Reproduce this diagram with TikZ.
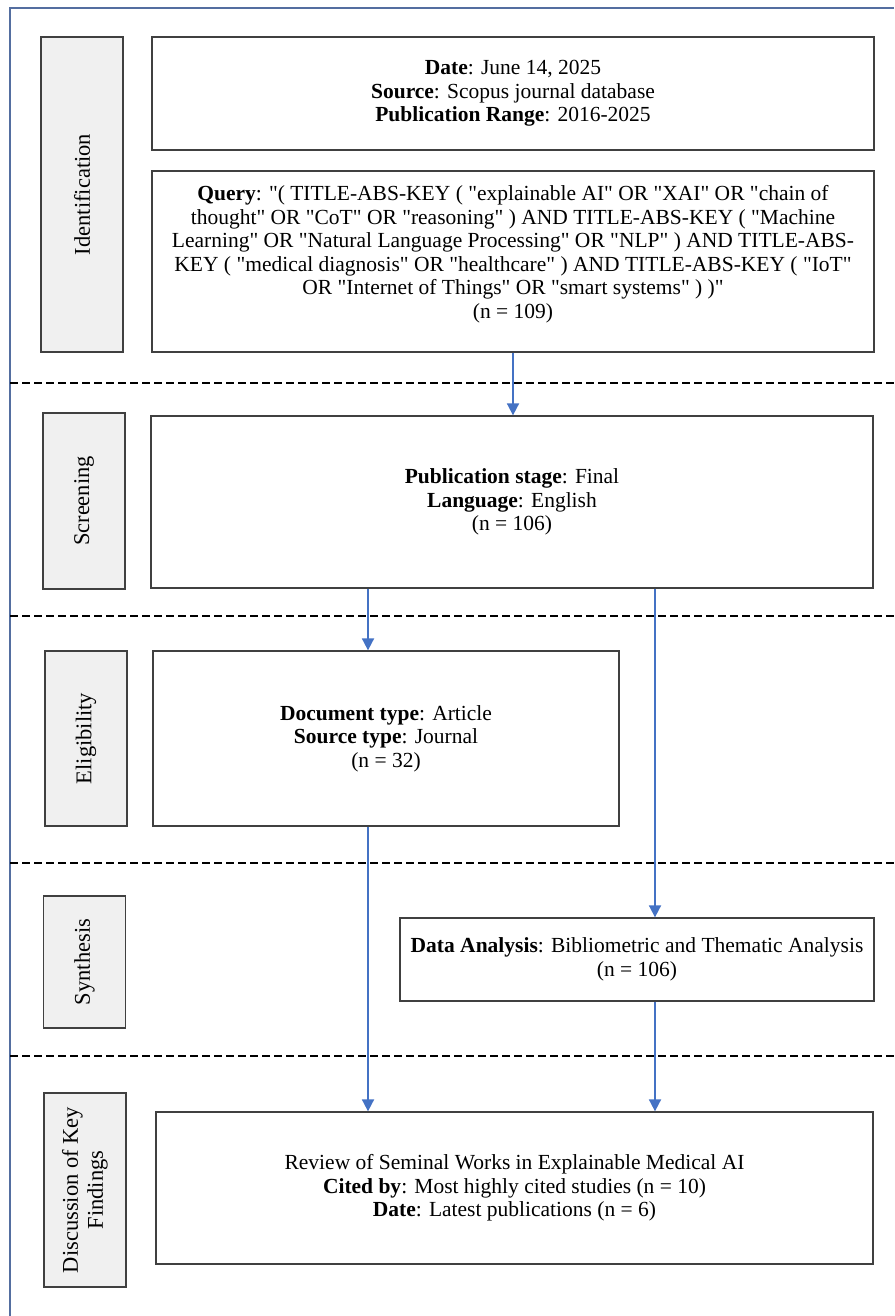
\documentclass[tikz,border=0pt]{standalone}
\usepackage{fontspec}
\setmainfont{Liberation Serif}[Ligatures=TeXOff]
\usetikzlibrary{arrows.meta,positioning}
\definecolor{framecol}{RGB}{84,110,160}
\definecolor{flowcol}{RGB}{68,114,196}
\definecolor{stagegray}{RGB}{240,240,240}
\tikzstyle{stagebox}=[draw=black!75,fill=stagegray,line width=1.3pt,rotate=90,minimum height=82pt,inner sep=0pt,align=center,font=\fontsize{22.5}{25}\selectfont]
\tikzstyle{infobox}=[draw=black!75,fill=white,line width=1.3pt,inner sep=0pt,align=center]
\tikzstyle{flow}=[draw=flowcol,line width=1.8pt,-{Triangle[length=12pt,width=12pt]}]
\tikzstyle{phaseline}=[draw,line width=2.2pt,dash pattern=on 8pt off 4pt]
\tikzstyle{frameline}=[draw=framecol,line width=2pt]

\begin{document}
\begin{tikzpicture}[x=1pt,y=-1pt,font=\fontsize{21.5}{23.5}\selectfont]

  \useasboundingbox (0,0) rectangle (894,1316);
  \draw[frameline] (894,8) -- (10,8) -- (10,1316);

  % phase separators
  \foreach \y in {383,616,863,1056}
     \draw[phaseline] (10,\y) -- (894,\y);

  % stage labels on the left
  \foreach \x/\y/\h/\name/\label in {82/194.5/315/sid/Identification, 84/501/176/sscr/Screening, 86/738.5/175/selg/Eligibility, 84.5/962/132/ssyn/Synthesis, 85/1190/194/sdis/{Discussion of Key\\Findings}}
     \node[stagebox,minimum width=\h pt] (\name) at (\x,\y) {\label};

  % content boxes
  \node[infobox,minimum width=722pt,minimum height=113pt] (date) at (513,93.5)
     {\textbf{Date}: June 14, 2025\\\textbf{Source}: Scopus journal database\\\textbf{Publication Range}: 2016-2025};
  \node[infobox,minimum width=722pt,minimum height=181pt] (query) at (513,261.5)
     {\textbf{Query}: "( TITLE-ABS-KEY ( "explainable AI" OR "XAI" OR "chain of\\
      thought" OR "CoT" OR "reasoning" ) AND TITLE-ABS-KEY ( "Machine\\
      Learning" OR "Natural Language Processing" OR "NLP" ) AND TITLE-ABS-\\
      KEY ( "medical diagnosis" OR "healthcare" ) AND TITLE-ABS-KEY ( "IoT"\\
      OR "Internet of Things" OR "smart systems" ) )"\\
      (n = 109)\\[-4pt]};
  \node[infobox,minimum width=722pt,minimum height=172pt] (scr) at (512,502)
     {\textbf{Publication stage}: Final\\\textbf{Language}: English\\(n = 106)};
  \node[infobox,minimum width=466pt,minimum height=175pt] (elig) at (386,738.5)
     {\textbf{Document type}: Article\\\textbf{Source type}: Journal\\(n = 32)};
  \node[infobox,minimum width=474pt,minimum height=83pt] (syn) at (637,959.5)
     {\textbf{Data Analysis}: Bibliometric and Thematic Analysis\\(n = 106)};
  \node[infobox,minimum width=717pt,minimum height=152pt] (disc) at (514.5,1188)
     {Review of Seminal Works in Explainable Medical AI\\\textbf{Cited by}: Most highly cited studies (n = 10)\\\textbf{Date}: Latest publications (n = 6)};

  % flow arrows
  \coordinate (colA) at (368,0);
  \coordinate (colB) at (655,0);
  \draw[flow] (query.south) -- (query.south |- scr.north);
  \draw[flow] (scr.south -| colA) -- (elig.north -| colA);
  \draw[flow] (scr.south -| colB) -- (syn.north -| colB);
  \draw[flow] (elig.south -| colA) -- (disc.north -| colA);
  \draw[flow] (syn.south -| colB) -- (disc.north -| colB);

\end{tikzpicture}
\end{document}
